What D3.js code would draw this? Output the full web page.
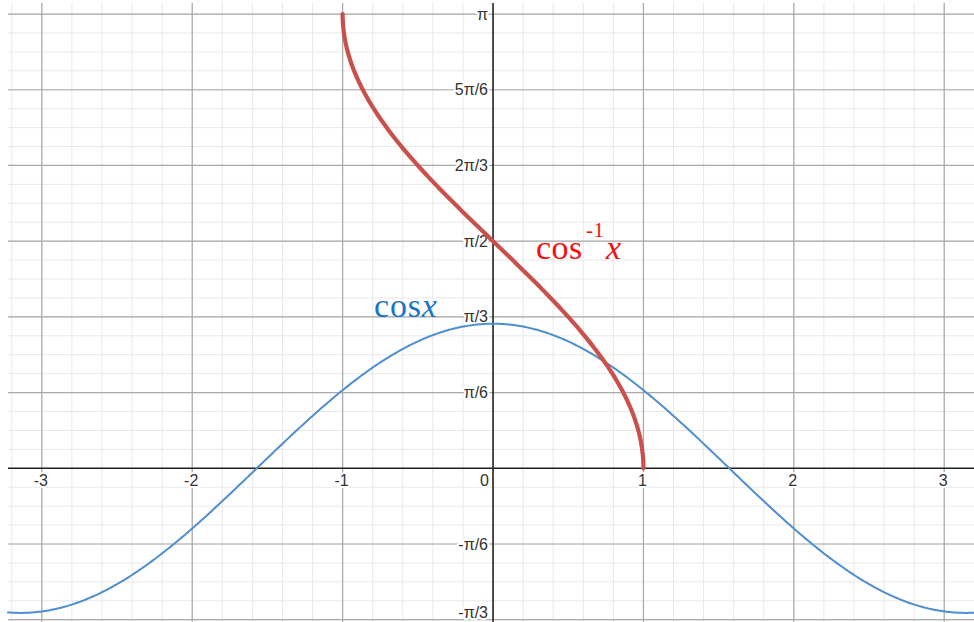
<!DOCTYPE html>
<html>
<head>
<meta charset="utf-8">
<script src="https://cdn.jsdelivr.net/npm/d3@7"></script>
<style>
  html, body { margin: 0; padding: 0; background: #fff; }
  svg { display: block; }
</style>
</head>
<body>
<script>
// Viewing window (graph units)
const xDomain = [-3.225, 3.198];
const yDomain = [-1.063, 3.218];

// Axis ticks
const xTicks = [-3, -2, -1, 0, 1, 2, 3];
const xTickLabels = ["-3", "-2", "-1", "0", "1", "2", "3"];
const yTickMultiples = [-2, -1, 1, 2, 3, 4, 5, 6];          // multiples of π/6
const yTickLabels = ["-π/3", "-π/6", "π/6", "π/3", "π/2", "2π/3", "5π/6", "π"];

// Plotted functions and their domains
const functionNames = ["cos", "arccos"];
const functionDomains = [[-3.225, 3.198], [-1, 1]];
const functionColors = ["#4f8ecf", "#c9504b"];
const functionWidths = [2, 4.2];

const W = 974, H = 622;
const SANS = "'Liberation Sans', Arial, Helvetica, sans-serif";
const SERIF = "'Liberation Serif', 'Times New Roman', serif";

const svg = d3.select("body").append("svg").attr("width", W).attr("height", H);

const x = d3.scaleLinear().domain(xDomain).range([8, W]);
const y = d3.scaleLinear().domain(yDomain).range([H, 3]);

const grid = svg.append("g");

// Minor grid
const minorX = d3.range(Math.ceil(xDomain[0] / 0.2), Math.floor(xDomain[1] / 0.2) + 1).map(k => k * 0.2);
const stepY = Math.PI / 24;
const minorY = d3.range(Math.ceil(yDomain[0] / stepY), Math.floor(yDomain[1] / stepY) + 1).map(k => k * stepY);

grid.selectAll(".mx").data(minorX).join("line")
  .attr("x1", d => x(d)).attr("x2", d => x(d)).attr("y1", 3).attr("y2", H)
  .attr("stroke", "#e8e8e8").attr("stroke-width", 1);
grid.selectAll(".my").data(minorY).join("line")
  .attr("y1", d => y(d)).attr("y2", d => y(d)).attr("x1", 8).attr("x2", W)
  .attr("stroke", "#e8e8e8").attr("stroke-width", 1);

// Major grid
const majorY = yTickMultiples.map(m => m * Math.PI / 6);
grid.selectAll(".Mx").data(xTicks.filter(d => d !== 0)).join("line")
  .attr("x1", d => x(d)).attr("x2", d => x(d)).attr("y1", 3).attr("y2", H)
  .attr("stroke", "#a9a9a9").attr("stroke-width", 1.2);
grid.selectAll(".My").data(majorY).join("line")
  .attr("y1", d => y(d)).attr("y2", d => y(d)).attr("x1", 8).attr("x2", W)
  .attr("stroke", "#a9a9a9").attr("stroke-width", 1.2);

// Axes
svg.append("line").attr("x1", 8).attr("x2", W).attr("y1", y(0)).attr("y2", y(0))
  .attr("stroke", "#222").attr("stroke-width", 1.6);
svg.append("line").attr("x1", x(0)).attr("x2", x(0)).attr("y1", 3).attr("y2", H)
  .attr("stroke", "#222").attr("stroke-width", 1.6);

// Tick labels (white halo behind the text, as on graph paper)
function tickStyle(sel) {
  sel.attr("font-family", SANS).attr("font-size", 16).attr("fill", "#333")
    .attr("stroke", "#fff").attr("stroke-width", 4).attr("paint-order", "stroke")
    .attr("stroke-linejoin", "round");
}
const labels = svg.append("g");
labels.selectAll(".xl").data(xTicks).join("text")
  .call(tickStyle)
  .attr("x", d => d === 0 ? x(0) - 4 : x(d) - 1)
  .attr("y", y(0) + 18)
  .attr("text-anchor", d => d === 0 ? "end" : "middle")
  .text((d, i) => xTickLabels[i]);
labels.selectAll(".yl").data(majorY).join("text")
  .call(tickStyle)
  .attr("x", x(0) - 5)
  .attr("y", d => Math.min(y(d) + 5.5, H - 4))
  .attr("text-anchor", "end")
  .text((d, i) => yTickLabels[i]);

// Curves
const fns = { cos: Math.cos, arccos: Math.acos };
const line = d3.line().x(d => x(d[0])).y(d => y(d[1])).curve(d3.curveLinear);
functionNames.forEach((name, i) => {
  const [a, b] = functionDomains[i];
  const n = 600;
  const pts = d3.range(n + 1).map(k => {
    // denser sampling near the ends for the steep arccos
    const t = name === "arccos" ? (1 - Math.cos(Math.PI * k / n)) / 2 : k / n;
    const xv = a + (b - a) * t;
    return [xv, fns[name](xv)];
  });
  svg.append("path").datum(pts)
    .attr("d", line)
    .attr("fill", "none")
    .attr("stroke", functionColors[i])
    .attr("stroke-width", functionWidths[i])
    .attr("stroke-linejoin", "round")
    .attr("stroke-linecap", "round");
});

// Function labels
const cosLabel = svg.append("text")
  .attr("font-family", SERIF).attr("font-size", 34).attr("letter-spacing", 0.8)
  .attr("x", 374).attr("y", 317).attr("fill", "#1c74c4");
cosLabel.append("tspan").text("cos");
cosLabel.append("tspan").attr("font-style", "italic").text("x");

const acosLabel = svg.append("text")
  .attr("font-family", SERIF).attr("font-size", 34).attr("letter-spacing", 0.5)
  .attr("x", 536).attr("y", 259).attr("fill", "#f50f0f");
acosLabel.append("tspan").text("cos");
acosLabel.append("tspan").attr("x", 586).attr("y", 237).attr("font-size", 21).text("-1");
acosLabel.append("tspan").attr("x", 606).attr("y", 259).attr("font-style", "italic").text("x");
</script>
</body>
</html>
